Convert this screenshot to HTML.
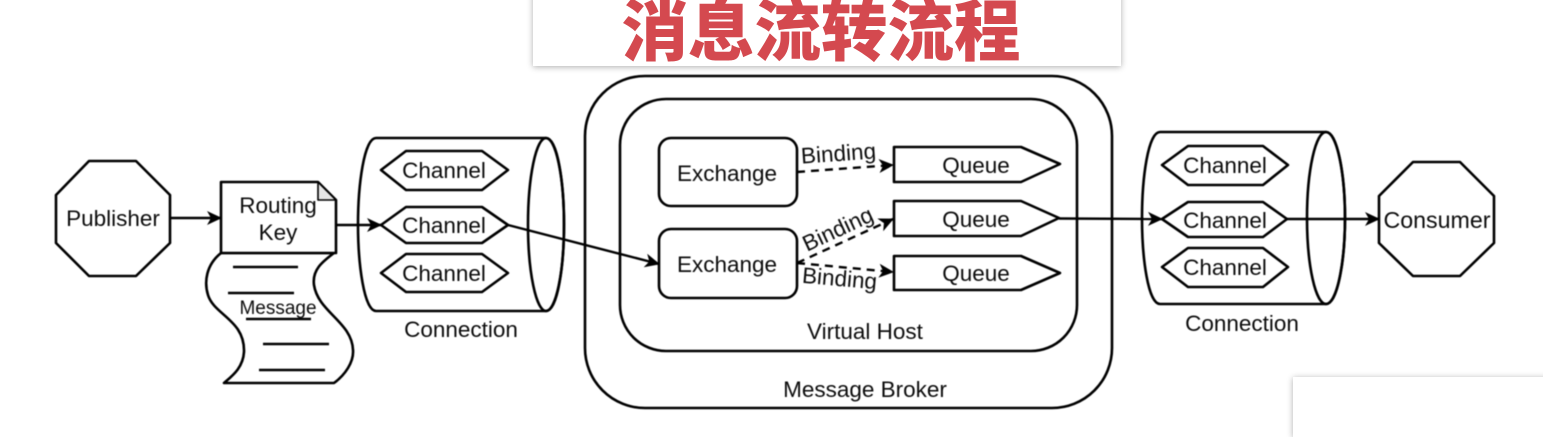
<!DOCTYPE html>
<html lang="zh">
<head>
<meta charset="utf-8">
<style>
html,body{margin:0;padding:0;background:#fff;width:1543px;height:417px;overflow:hidden}
svg{position:absolute;left:0;top:0;filter:blur(.4px)}
text{font-family:"Liberation Sans",sans-serif;font-size:22.5px;fill:#0c0c0c;text-anchor:middle}
.s{fill:none;stroke:#000;stroke-width:2.6;stroke-linejoin:round}
.w{fill:#fff;stroke:#000;stroke-width:2.6;stroke-linejoin:round}
.l{fill:none;stroke:#000;stroke-width:2.4}
.d{fill:none;stroke:#000;stroke-width:2.4;stroke-dasharray:8 6}
.card{position:absolute;background:#fff;box-shadow:0 1px 6px rgba(0,0,0,.32)}
.title{position:absolute;left:527px;top:-9px;width:588px;text-align:center;font-family:"Liberation Sans","Noto Sans CJK SC",sans-serif;font-weight:900;font-size:66.500px;line-height:84px;color:#d4494f;white-space:nowrap}
</style>
</head>
<body>
<div class="card" style="left:533px;top:-10px;width:588px;height:76px"></div>
<div class="title">消息流转流程</div>
<div class="card" style="left:1293px;top:377px;width:260px;height:60px"></div>
<svg width="1543" height="417" viewBox="0 0 1543 417" xmlns="http://www.w3.org/2000/svg">
<defs>
<marker id="a" viewBox="0 0 15 15" refX="14" refY="7.500" markerWidth="15" markerHeight="15" markerUnits="userSpaceOnUse" orient="auto">
<path d="M0 0.500L15 7.500L0 14.500L4 7.500Z" fill="#000"/>
</marker>
</defs>

<!-- Publisher -->
<polygon class="w" points="89,161 136,161 170,195 170,243 136,276 89,276 56,243 56,195"/>
<text x="113" y="226">Publisher</text>

<!-- Message tape -->
<path class="w" d="M221,253 C206,265 204,282 208,295 C214,315 245,320 244,352 C243,368 232,376 224,383 L334,383 C345,375 354,362 353,350 C352,322 318,312 314,285 C312,270 322,262 334,253 Z"/>
<line class="l" x1="233" y1="267" x2="298" y2="267"/>
<line class="l" x1="228" y1="293" x2="294" y2="293"/>
<line class="l" x1="246" y1="319" x2="311" y2="319"/>
<line class="l" x1="263" y1="344" x2="329" y2="344"/>
<line class="l" x1="259" y1="370" x2="325" y2="370"/>
<text x="278" y="314" style="font-size:19px">Message</text>

<!-- Routing Key -->
<path class="w" d="M221,182 L318,182 L336,200 L336,253 L221,253 Z"/>
<path d="M318,182 L318,200 L336,200 Z" fill="#e6e6e6" stroke="#000" stroke-width="1.6" stroke-linejoin="round"/>
<text x="278" y="213">Routing</text>
<text x="278" y="240">Key</text>

<!-- Left connection -->
<path class="w" d="M376,138 L546,138 C558,138 564,185 564,224.500 C564,264 558,311 546,311 L376,311 C364,311 358,264 358,224.500 C358,185 364,138 376,138 Z"/>
<ellipse class="s" cx="546" cy="224.500" rx="18" ry="86.500"/>
<polygon class="w" points="406,151 482,151 508,170 482,190 406,190 381,170"/>
<polygon class="w" points="406,207 482,207 508,225 482,243 406,243 381,225"/>
<polygon class="w" points="406,254 482,254 508,273 482,292 406,292 381,273"/>
<text x="444" y="178">Channel</text>
<text x="444" y="233">Channel</text>
<text x="444" y="281">Channel</text>
<text x="461" y="337">Connection</text>

<!-- Broker -->
<rect class="s" x="585" y="76" width="527" height="332" rx="60" ry="60"/>
<text x="865" y="397">Message Broker</text>
<rect class="s" x="620" y="99" width="457" height="252" rx="46" ry="46"/>
<text x="865" y="339">Virtual Host</text>

<rect class="w" x="659" y="138" width="138" height="68" rx="12" ry="12"/>
<rect class="w" x="659" y="229" width="138" height="69" rx="12" ry="12"/>
<text x="727" y="181">Exchange</text>
<text x="727" y="272">Exchange</text>

<polygon class="w" points="894,147 1021,147 1060,164 1021,182 894,182"/>
<polygon class="w" points="894,201 1021,201 1059,218 1021,236 894,236"/>
<polygon class="w" points="894,256 1021,256 1060,273 1021,290 894,290"/>
<text x="976" y="173">Queue</text>
<text x="976" y="227">Queue</text>
<text x="976" y="281">Queue</text>

<!-- Bindings -->
<line class="d" x1="797" y1="172" x2="893" y2="165" marker-end="url(#a)"/>
<line class="d" x1="797" y1="263" x2="893" y2="219" marker-end="url(#a)"/>
<line class="d" x1="797" y1="263" x2="893" y2="272" marker-end="url(#a)"/>
<text x="839" y="161" transform="rotate(-4 839 161)">Binding</text>
<text x="841" y="236" transform="rotate(-25 841 236)">Binding</text>
<text x="839" y="286" transform="rotate(5 839 286)">Binding</text>

<!-- Right connection -->
<path class="w" d="M1160,132 L1326,132 C1338,132 1345,178 1345,218 C1345,258 1338,304 1326,304 L1160,304 C1148,304 1142,258 1142,218 C1142,178 1148,132 1160,132 Z"/>
<ellipse class="s" cx="1326" cy="218" rx="19" ry="86"/>
<polygon class="w" points="1188,146 1263,146 1288,165 1263,185 1188,185 1162,165"/>
<polygon class="w" points="1188,202 1263,202 1287,219 1263,237 1188,237 1162,219"/>
<polygon class="w" points="1188,248 1263,248 1288,267 1263,287 1188,287 1162,267"/>
<text x="1225" y="173">Channel</text>
<text x="1225" y="228">Channel</text>
<text x="1225" y="275">Channel</text>
<text x="1242" y="331">Connection</text>

<!-- Consumer -->
<polygon class="w" points="1413,162 1460,162 1494,196 1494,243 1460,276 1413,276 1379,243 1379,196"/>
<text x="1437" y="228" style="font-size:23.200px">Consumer</text>

<!-- Connectors -->
<line class="l" x1="170" y1="218" x2="221" y2="218" marker-end="url(#a)"/>
<line class="l" x1="336" y1="225" x2="381" y2="225" marker-end="url(#a)"/>
<line class="l" x1="508" y1="225" x2="659" y2="264" marker-end="url(#a)"/>
<line class="l" x1="1059" y1="218.500" x2="1162" y2="219" marker-end="url(#a)"/>
<line class="l" x1="1287" y1="219" x2="1379" y2="219" marker-end="url(#a)"/>
</svg>
</body>
</html>
